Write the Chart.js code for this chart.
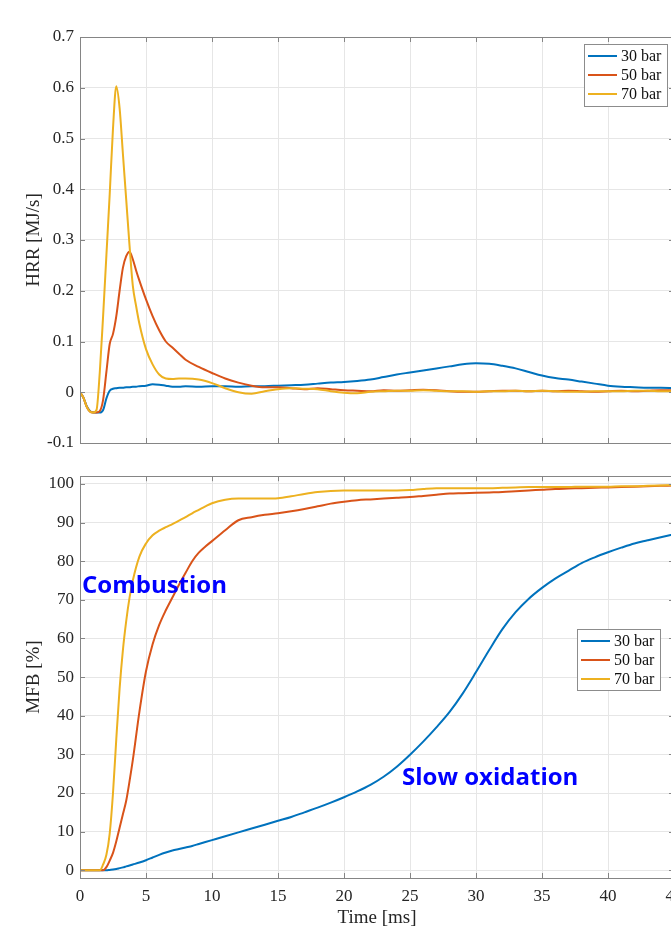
<!DOCTYPE html>
<html>
<head>
<meta charset="utf-8">
<script src="https://cdn.jsdelivr.net/npm/chart.js@4"></script>
<style>
  html, body { margin: 0; padding: 0; background: #fff; overflow: hidden; }
  canvas { display: block; }
</style>
</head>
<body>
<canvas id="hrrChart" width="680" height="460"></canvas>
<canvas id="mfbChart" width="680" height="469"></canvas>
<script>
const seriesLabels = ['30 bar', '50 bar', '70 bar'];
const seriesColors = ['#0072BD', '#D95319', '#EDB120'];

const timeTicks = [0, 5, 10, 15, 20, 25, 30, 35, 40, 45];
const hrrTicks = [-0.1, 0, 0.1, 0.2, 0.3, 0.4, 0.5, 0.6, 0.7];
const mfbTicks = [0, 10, 20, 30, 40, 50, 60, 70, 80, 90, 100];

// HRR [MJ/s]
const hrrTime = [0, 0.25, 0.5, 0.75, 1, 1.25, 1.5, 1.75, 2, 2.25, 2.5, 2.75, 3, 3.25, 3.5, 3.75, 4, 4.25, 4.5,
  5, 5.5, 6, 6.5, 7, 7.5, 8, 9,
  10, 11, 12, 13, 14, 15, 16, 17, 18, 19, 20, 21, 22, 23, 24, 25, 26, 27, 28, 29,
  30, 31, 32, 33, 34, 35, 36, 37, 38, 39, 40, 41, 42, 43, 44, 45];
const hrr30 = [0, -0.01, -0.027, -0.037, -0.04, -0.04, -0.04, -0.035, -0.012, 0.003, 0.007, 0.008, 0.009, 0.009, 0.01, 0.01, 0.011, 0.011, 0.012,
  0.013, 0.016, 0.015, 0.013, 0.011, 0.011, 0.012, 0.011,
  0.012, 0.012, 0.011, 0.012, 0.012, 0.013, 0.014, 0.015, 0.017, 0.019, 0.02, 0.022, 0.025, 0.03, 0.035, 0.039, 0.043, 0.047, 0.051, 0.055,
  0.057, 0.056, 0.052, 0.047, 0.04, 0.033, 0.028, 0.025, 0.021, 0.017, 0.013, 0.011, 0.01, 0.009, 0.009, 0.008];
const hrr50 = [0, -0.01, -0.028, -0.038, -0.04, -0.04, -0.037, -0.015, 0.04, 0.095, 0.115, 0.15, 0.2, 0.245, 0.268, 0.277, 0.262, 0.24, 0.22,
  0.183, 0.15, 0.122, 0.1, 0.088, 0.076, 0.064, 0.05,
  0.038, 0.027, 0.019, 0.013, 0.01, 0.01, 0.008, 0.006, 0.008, 0.006, 0.004, 0.003, 0.002, 0.004, 0.003, 0.004, 0.005, 0.004, 0.002, 0.001,
  0.001, 0.002, 0.003, 0.003, 0.002, 0.003, 0.002, 0.003, 0.002, 0.001, 0.002, 0.003, 0.002, 0.003, 0.004, 0.004];
const hrr70 = [0, -0.01, -0.028, -0.038, -0.04, -0.035, 0.04, 0.15, 0.27, 0.39, 0.52, 0.603, 0.56, 0.47, 0.38, 0.29, 0.21, 0.17, 0.135,
  0.085, 0.055, 0.035, 0.027, 0.026, 0.027, 0.027, 0.025,
  0.018, 0.008, 0.0, -0.003, 0.002, 0.006, 0.008, 0.007, 0.006, 0.002, -0.001, -0.002, 0.001, 0.002, 0.003, 0.003, 0.004, 0.003, 0.002, 0.002,
  0.001, 0.002, 0.002, 0.003, 0.002, 0.003, 0.002, 0.001, 0.001, 0.002, 0.002, 0.002, 0.003, 0.003, 0.002, 0.002];

// MFB [%]
const mfbTime = [0, 1, 1.5, 1.75, 2, 2.25, 2.5, 2.75, 3, 3.25, 3.5, 3.75, 4, 4.5, 5, 5.5, 6, 6.5, 7, 7.5, 8, 8.5, 9, 9.5, 10,
  11, 12, 13, 14, 15, 16, 17, 18, 19, 20, 21, 22, 23, 24, 25, 26, 27, 28,
  29, 30, 31, 32, 33, 34, 35, 36, 37, 38, 39, 40, 41, 42, 43, 44, 45];
const mfb30 = [0, 0, 0, 0, 0, 0.1, 0.2, 0.35, 0.55, 0.75, 1.0, 1.25, 1.5, 2.0, 2.6, 3.3, 4.0, 4.6, 5.1, 5.5, 5.9, 6.3, 6.8, 7.3, 7.8,
  8.8, 9.8, 10.8, 11.8, 12.8, 13.8, 15.0, 16.2, 17.5, 18.9, 20.4, 22.1, 24.2, 26.8, 29.9, 33.3, 37.0, 41.0,
  45.8, 51.3, 57.0, 62.4, 66.8, 70.3, 73.1, 75.5, 77.5, 79.5, 81.0, 82.3, 83.5, 84.6, 85.4, 86.2, 87.0];
const mfb50 = [0, 0, 0, 0, 0.8, 2.5, 4.5, 7.5, 11, 14.5, 18, 23, 28.5, 41, 51.5, 58.5, 63.5, 67.3, 70.6, 73.9, 77, 80, 82.2, 83.8, 85.2,
  88, 90.6, 91.4, 92.0, 92.4, 92.9, 93.5, 94.2, 94.9, 95.4, 95.8, 96.0, 96.2, 96.4, 96.6, 96.9, 97.2, 97.5,
  97.6, 97.7, 97.8, 97.9, 98.1, 98.3, 98.5, 98.7, 98.8, 98.9, 99.0, 99.1, 99.2, 99.3, 99.4, 99.5, 99.6];
const mfb70 = [0, 0, 0, 1.5, 4, 9.5, 20, 34, 47, 57, 64.5, 70.5, 75, 81.2, 84.6, 86.7, 87.9, 88.8, 89.6, 90.5, 91.4, 92.4, 93.3, 94.2, 95,
  95.9, 96.2, 96.2, 96.2, 96.3, 96.8, 97.4, 97.9, 98.2, 98.3, 98.3, 98.3, 98.3, 98.3, 98.4, 98.7, 98.9, 98.9,
  98.9, 98.9, 98.9, 99.0, 99.1, 99.2, 99.2, 99.2, 99.2, 99.3, 99.3, 99.3, 99.4, 99.4, 99.5, 99.6, 99.7];

Chart.defaults.font.family = "'Liberation Serif', 'Times New Roman', serif";
Chart.defaults.color = '#262626';

function pairs(xs, ys) {
  return ys.map((v, i) => ({ x: xs[i], y: v }));
}

function makeDatasets(time, series) {
  return series.map((s, i) => ({
    label: seriesLabels[i],
    data: pairs(time, s),
    borderColor: seriesColors[i],
    backgroundColor: seriesColors[i],
    borderWidth: 2,
    pointRadius: 0,
    fill: false,
    cubicInterpolationMode: 'monotone',
    order: 3 - i
  }));
}

// box round the plot with inward ticks
const frame = {
  id: 'frame',
  afterDraw(chart) {
    const { ctx, chartArea: a, scales: { x, y } } = chart;
    ctx.save();
    ctx.strokeStyle = '#858585';
    ctx.lineWidth = 1;
    ctx.beginPath();
    x.ticks.forEach(t => {
      const px = Math.round(x.getPixelForValue(t.value)) + 0.5;
      ctx.moveTo(px, a.bottom); ctx.lineTo(px, a.bottom - 5);
      ctx.moveTo(px, a.top); ctx.lineTo(px, a.top + 5);
    });
    y.ticks.forEach(t => {
      const py = Math.round(y.getPixelForValue(t.value)) + 0.5;
      ctx.moveTo(a.left, py); ctx.lineTo(a.left + 5, py);
      ctx.moveTo(a.right, py); ctx.lineTo(a.right - 5, py);
    });
    ctx.stroke();
    ctx.strokeRect(Math.round(a.left) + 0.5, Math.round(a.top) + 0.5, Math.round(a.right - a.left), Math.round(a.bottom - a.top));
    ctx.restore();
  }
};

const boxLegend = {
  id: 'boxLegend',
  afterDraw(chart, args, opts) {
    const { ctx } = chart;
    ctx.save();
    ctx.fillStyle = '#fff';
    ctx.fillRect(opts.left, opts.top, opts.width, opts.height);
    ctx.strokeStyle = '#8c8c8c';
    ctx.lineWidth = 1;
    ctx.strokeRect(opts.left + 0.5, opts.top + 0.5, opts.width, opts.height);
    ctx.font = "16px 'Liberation Serif'";
    ctx.textBaseline = 'middle';
    chart.data.datasets.forEach((ds, i) => {
      const yy = opts.top + 12 + i * 19;
      ctx.strokeStyle = ds.borderColor;
      ctx.lineWidth = 2;
      ctx.beginPath();
      ctx.moveTo(opts.left + 4, yy);
      ctx.lineTo(opts.left + 33, yy);
      ctx.stroke();
      ctx.fillStyle = '#111';
      ctx.fillText(ds.label, opts.left + 37, yy + 1);
    });
    ctx.restore();
  }
};

const notes = {
  id: 'notes',
  afterDatasetsDraw(chart, args, opts) {
    if (!opts.items) return;
    const { ctx, scales: { x, y } } = chart;
    ctx.save();
    ctx.font = "bold 24px 'Open Sans', Lato, sans-serif";
    ctx.fillStyle = '#0000ff';
    ctx.textBaseline = 'middle';
    opts.items.forEach(n => {
      ctx.fillText(n.text, x.getPixelForValue(n.x), y.getPixelForValue(n.y));
    });
    ctx.restore();
  }
};

function axisOptions(cfg) {
  return {
    x: {
      type: 'linear',
      min: 0,
      max: 45,
      afterBuildTicks: s => { s.ticks = timeTicks.map(v => ({ value: v })); },
      afterFit: s => { s.height = cfg.xHeight; s.paddingLeft = 0; s.paddingRight = 0; },
      grid: { color: '#e6e6e6', drawTicks: false },
      border: { display: false },
      ticks: { display: cfg.showX, padding: 8, font: { size: 17 }, maxRotation: 0 },
      title: { display: cfg.showX, text: 'Time [ms]', font: { size: 19 }, padding: { top: 0, bottom: 0 } }
    },
    y: {
      min: cfg.yMin,
      max: cfg.yMax,
      afterBuildTicks: s => { s.ticks = cfg.yTicks.map(v => ({ value: v })); },
      afterFit: s => { s.width = 80; },
      grid: { color: '#e6e6e6', drawTicks: false },
      border: { display: false },
      ticks: { padding: 6, font: { size: 17 }, callback: v => String(Math.round(v * 10) / 10) },
      title: { display: true, text: cfg.yTitle, font: { size: 19 }, padding: { top: 23, bottom: 0 } }
    }
  };
}

new Chart(document.getElementById('hrrChart'), {
  type: 'line',
  data: { datasets: makeDatasets(hrrTime, [hrr30, hrr50, hrr70]) },
  options: {
    responsive: false,
    animation: false,
    devicePixelRatio: 1,
    layout: { padding: { top: 37, right: 6, left: 0, bottom: 0 } },
    scales: axisOptions({ showX: false, xHeight: 17, yMin: -0.1, yMax: 0.7, yTicks: hrrTicks, yTitle: 'HRR [MJ/s]' }),
    plugins: {
      legend: { display: false },
      tooltip: { enabled: false },
      boxLegend: { left: 584, top: 44, width: 83, height: 62 }
    }
  },
  plugins: [frame, boxLegend]
});

new Chart(document.getElementById('mfbChart'), {
  type: 'line',
  data: { datasets: makeDatasets(mfbTime, [mfb30, mfb50, mfb70]) },
  options: {
    responsive: false,
    animation: false,
    devicePixelRatio: 1,
    layout: { padding: { top: 11, right: 6, left: 0, bottom: 0 } },
    scales: axisOptions({ showX: true, xHeight: 51, yMin: -2, yMax: 102, yTicks: mfbTicks, yTitle: 'MFB [%]' }),
    plugins: {
      legend: { display: false },
      tooltip: { enabled: false },
      boxLegend: { left: 577, top: 169, width: 83, height: 61 },
      notes: { items: [
        { text: 'Combustion', x: 0.15, y: 73.5 },
        { text: 'Slow oxidation', x: 24.4, y: 23.9 }
      ] }
    }
  },
  plugins: [frame, boxLegend, notes]
});
</script>
</body>
</html>
